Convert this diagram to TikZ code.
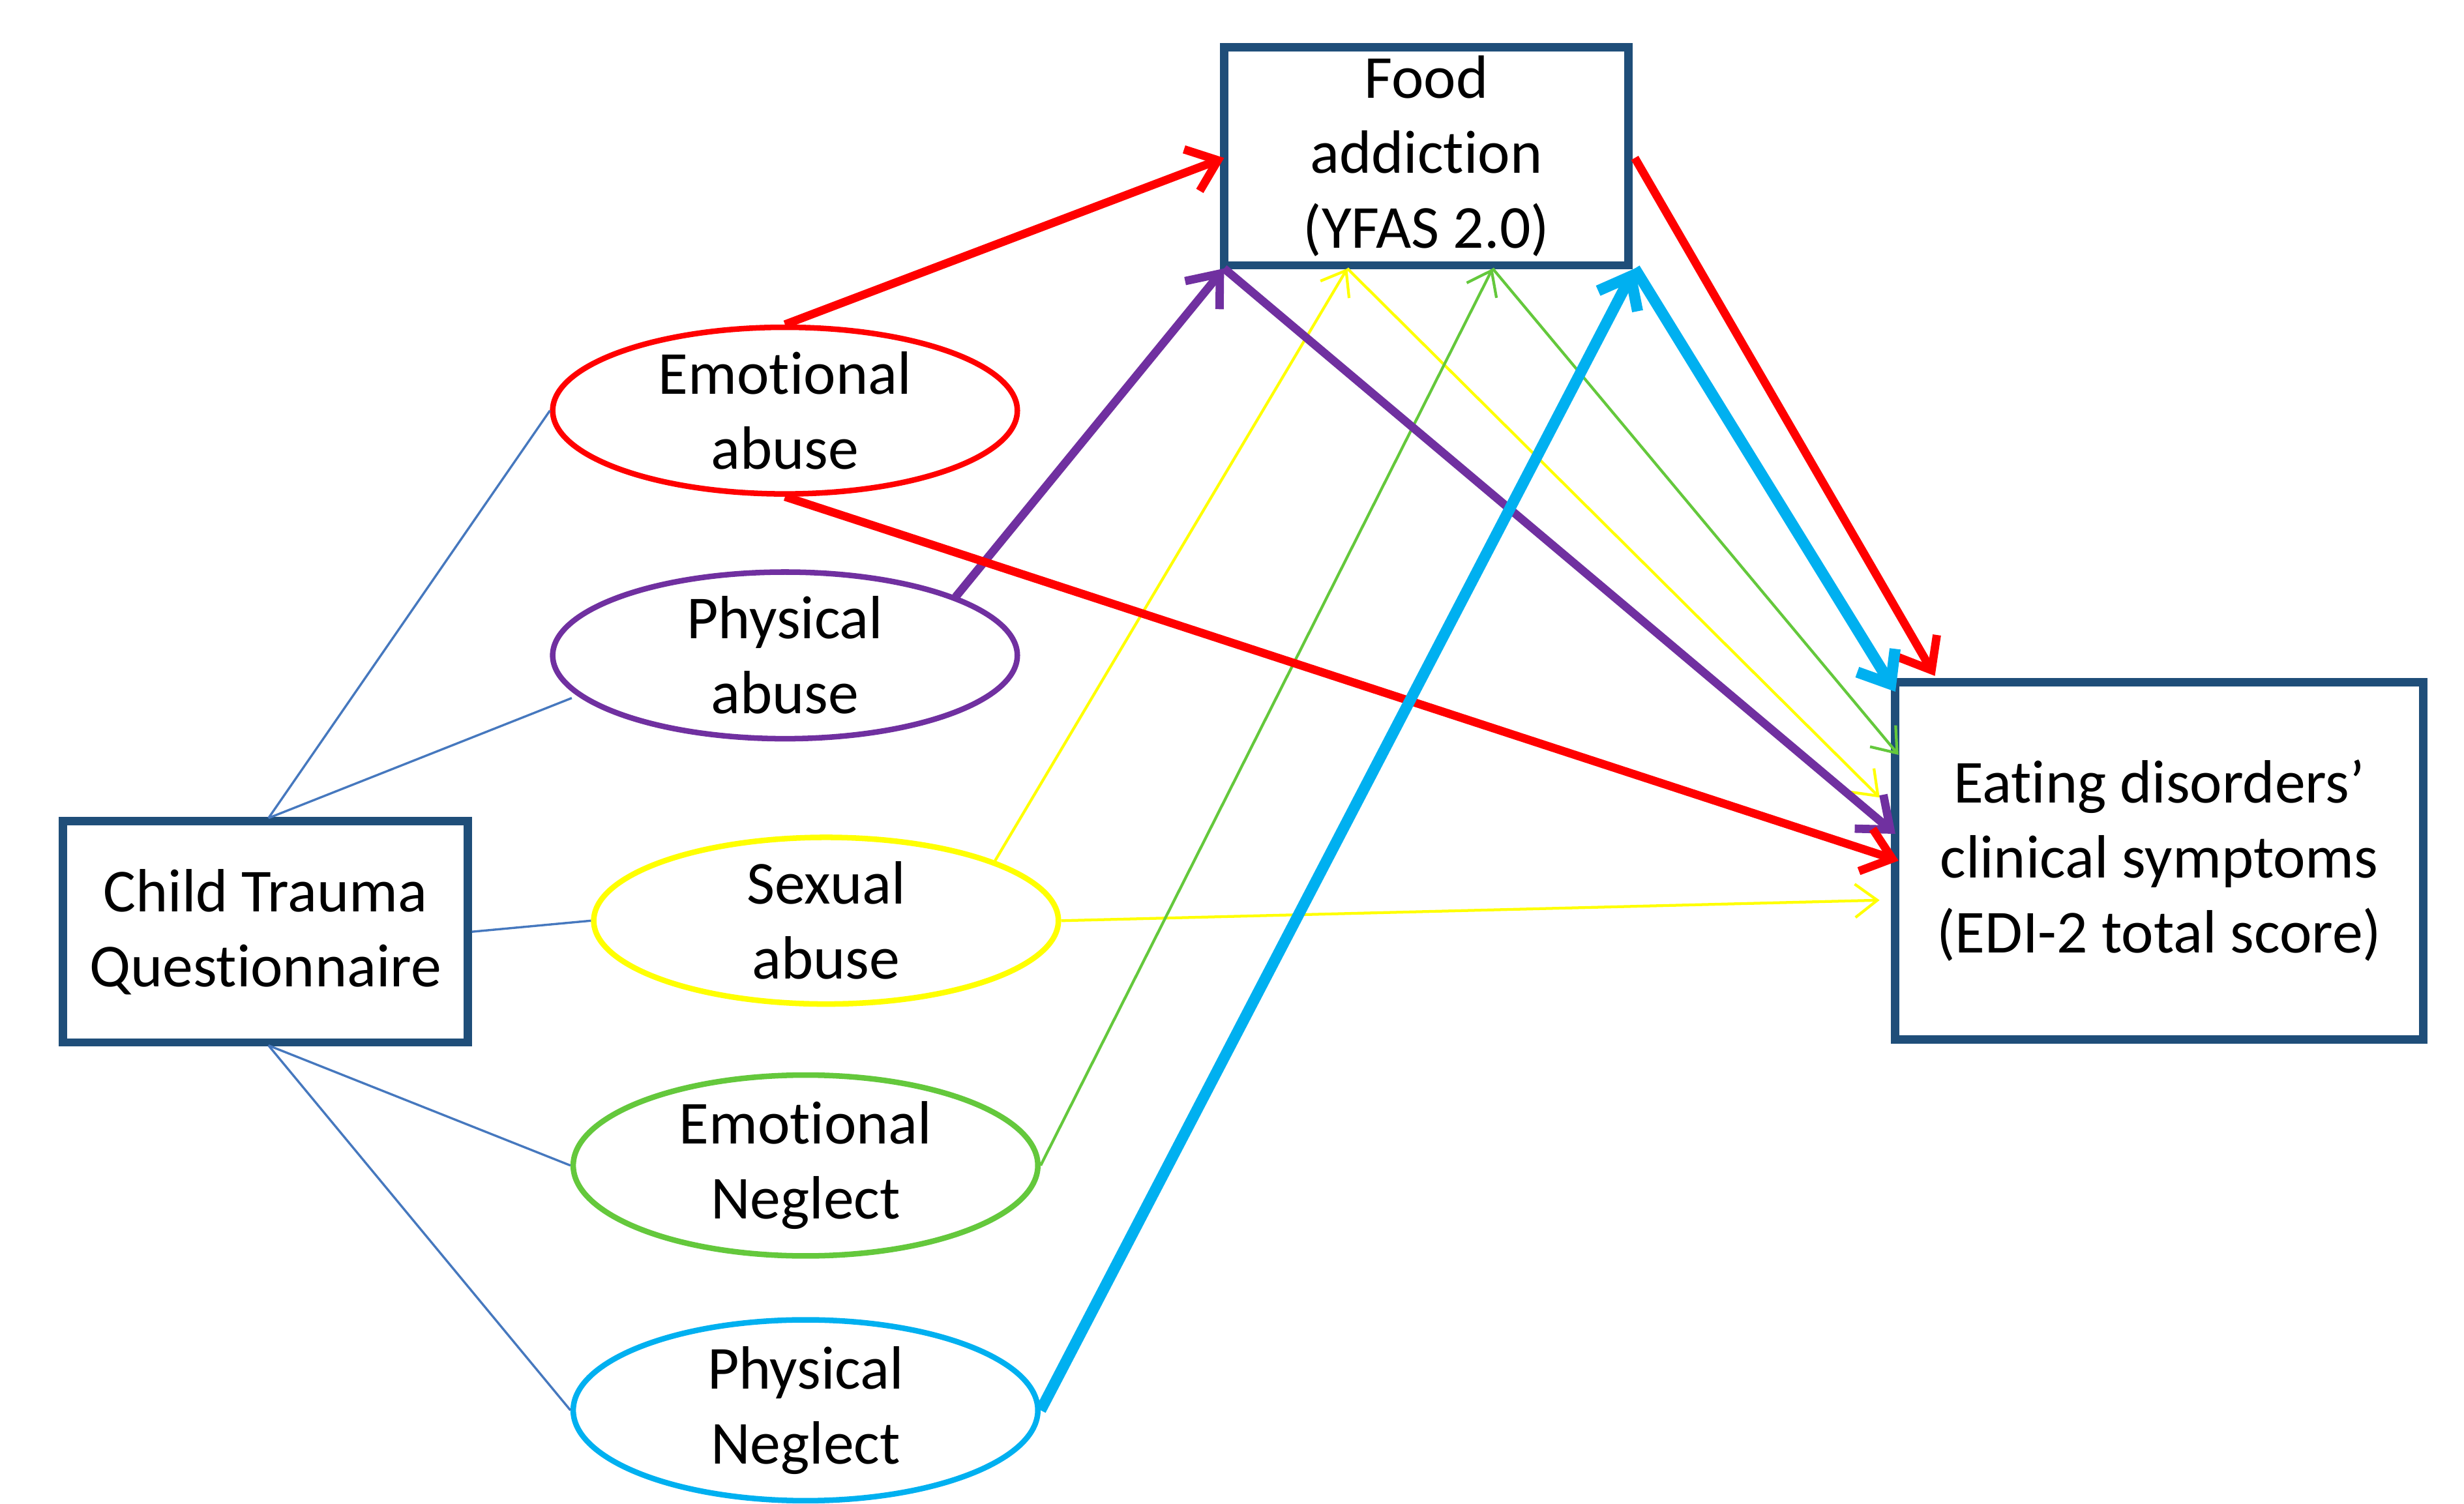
\documentclass[tikz,border=0pt]{standalone}
\usepackage{fontspec}
\setmainfont[Ligatures={NoCommon,NoRare}]{Carlito}
\usetikzlibrary{shapes.geometric,arrows.meta}
\definecolor{boxblue}{RGB}{31,78,121}
\definecolor{lnblue}{RGB}{70,120,190}
\definecolor{cred}{RGB}{255,0,0}
\definecolor{cpur}{RGB}{112,48,160}
\definecolor{cyel}{RGB}{255,255,0}
\definecolor{cgrn}{RGB}{100,200,60}
\definecolor{ccyan}{RGB}{0,176,240}
\begin{document}
\begin{tikzpicture}[x=0.01cm,y=-0.01cm,
  font=\fontsize{11}{13.5}\selectfont,
  bx/.style={draw=boxblue,line width=1.5pt,align=center,inner sep=0pt},
  el/.style={ellipse,draw,line width=1pt,minimum width=2.94cm,minimum height=1.02cm,align=center,inner sep=0pt},
  ln/.style={draw=lnblue,line width=0.4pt},
  thk/.style={line width=1.5pt,-{Straight Barb[length=5pt,width=8pt]}},
  thn/.style={line width=0.5pt,-{Straight Barb[length=4pt,width=6pt]}}]
\useasboundingbox (0,0) rectangle (1560,952);
\node[bx,minimum width=2.56cm,minimum height=1.38cm] (food) at (903,99) {Food\\addiction\\(YFAS 2.0)};
\node[bx,minimum width=3.34cm,minimum height=2.26cm] (eat) at (1367,545) {Eating disorders’\\clinical symptoms\\(EDI-2 total score)};
\node[bx,minimum width=2.56cm,minimum height=1.4cm] (ctq) at (168,590) {Child Trauma\\Questionnaire};
\node[el,draw=cred] (ea) at (497,260) {Emotional\\abuse};
\node[el,draw=cpur] (pa) at (497,415) {Physical\\abuse};
\node[el,draw=cyel] (sa) at (523,583) {Sexual\\abuse};
\node[el,draw=cgrn] (en) at (510,738) {Emotional\\Neglect};
\node[el,draw=ccyan] (pn) at (510,893) {Physical\\Neglect};
\coordinate (ctqt) at (170,518);
\coordinate (ctqb) at (170,662);
\coordinate (paw) at (362,442);
\draw[ln] (ctqt) -- (ea.west);
\draw[ln] (ctqt) -- (paw);
\draw[ln] (ctq.east) -- (sa.west);
\draw[ln] (ctqb) -- (en.west);
\draw[ln] (ctqb) -- (pn.west);
\coordinate (fw) at (775,100);
\coordinate (fsw) at (775,170);
\coordinate (fy) at (853,170);
\coordinate (fg) at (945,170);
\coordinate (fse) at (1035,170);
\coordinate (fe) at (1035,100);
\coordinate (er) at (1202,545);
\coordinate (erd) at (1225,428);
\coordinate (ep) at (1200,528);
\coordinate (ey) at (1190,505);
\coordinate (ey2) at (1190,570);
\coordinate (eg) at (1202,478);
\coordinate (ec) at (1200,438);
\coordinate (pat) at (605,378);
\coordinate (sat) at (630,545);
\draw[thn,cyel] (sat) -- (fy);
\draw[thn,cyel] (fy) -- (ey);
\draw[thn,cyel] (sa.east) -- (ey2);
\draw[thn,cgrn] (en.east) -- (fg);
\draw[thn,cgrn] (fg) -- (eg);
\draw[thk,cpur] (pat) -- (fsw);
\draw[thk,cpur] (fsw) -- (ep);
\draw[thk,cred] (ea.north) -- (fw);
\draw[thk,cred] (ea.south) -- (er);
\draw[thk,cred] (fe) -- (erd);
\draw[thk,ccyan,line width=2pt] (pn.east) -- (fse);
\draw[thk,ccyan,line width=2pt] (fse) -- (ec);
\end{tikzpicture}
\end{document}
